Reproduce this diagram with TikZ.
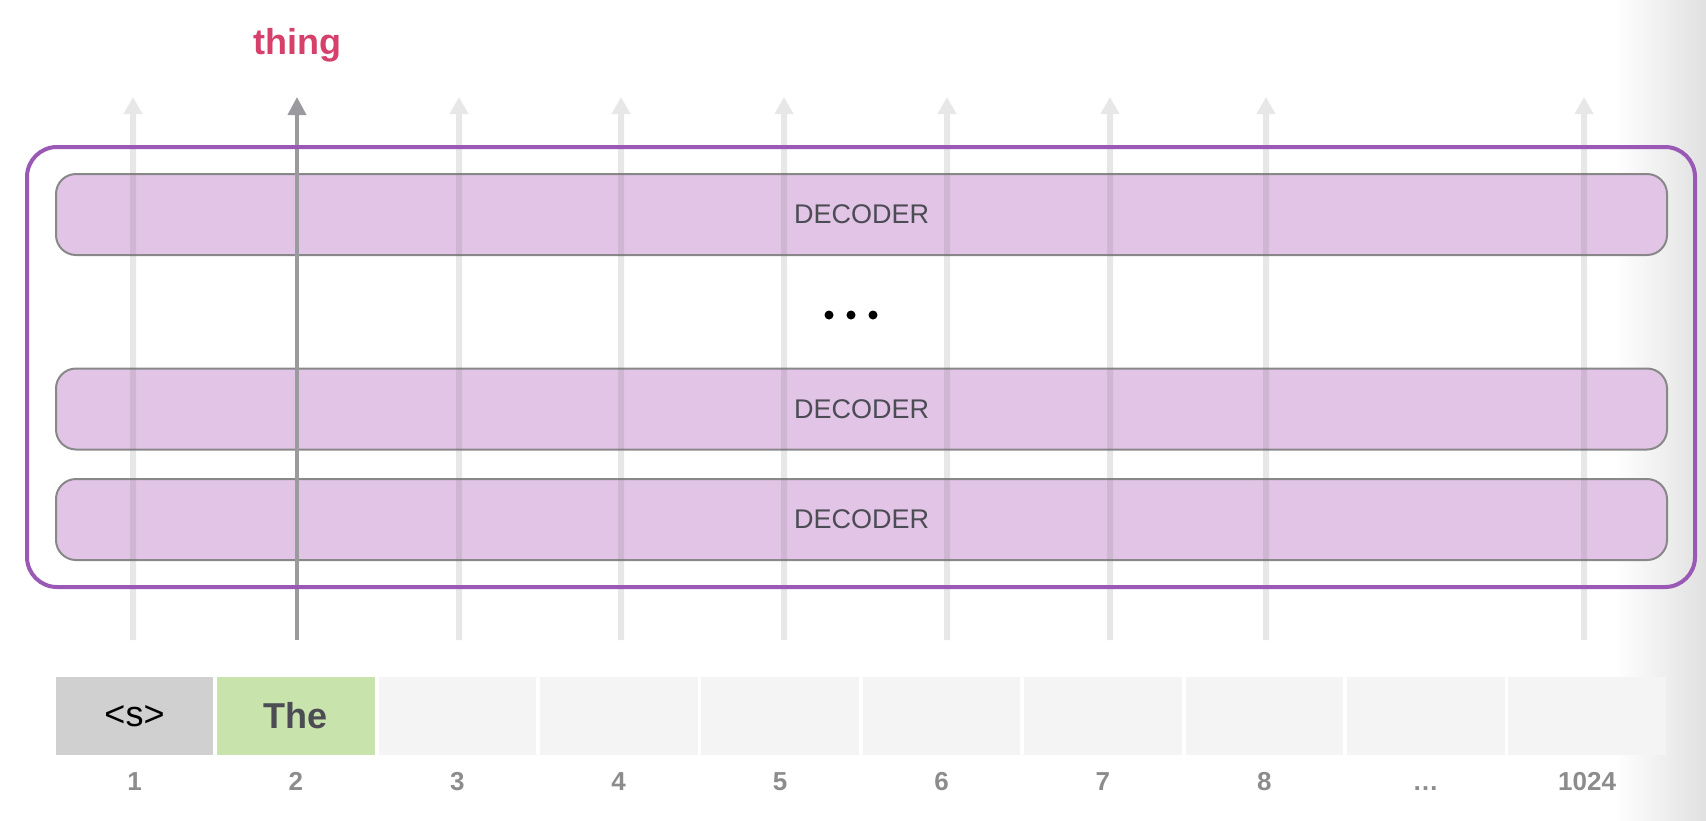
\documentclass[tikz,border=0pt]{standalone}
\usepackage{fontspec}
\setmainfont{Liberation Sans}
\usetikzlibrary{arrows.meta}
\tikzset{>=stealth}

\definecolor{stackline}{HTML}{9B59B6}
\definecolor{decfill}{HTML}{E2C4E7}
\definecolor{decline}{HTML}{888888}
\definecolor{dectext}{HTML}{4C4C54}
\definecolor{thingred}{HTML}{D6416B}
\definecolor{tokstart}{HTML}{D0D0D0}
\definecolor{tokword}{HTML}{C9E3AD}
\definecolor{tokempty}{HTML}{F4F4F4}
\definecolor{posgray}{HTML}{8C8C8C}
\definecolor{arrowdark}{HTML}{9A9A9F}

\begin{document}
\begin{tikzpicture}[x=0.5pt, y=-0.5pt,
    decoder/.style={draw=decline, line width=1pt, fill=decfill, rounded corners=10pt,
        minimum width=805.5pt, minimum height=40.5pt, inner sep=0pt,
        font=\fontsize{13.5}{15}\selectfont, text=dectext},
    token/.style={minimum width=78.8pt, minimum height=39pt, inner sep=0pt,
        fill=tokempty, font=\fontsize{18}{20}\selectfont},
    posnum/.style={anchor=base, font=\bfseries\fontsize{13}{15}\selectfont, text=posgray},
    faint/.style={line width=3pt, draw=black!55, -{Triangle[width=9pt,length=8.5pt]}},
    strong/.style={line width=2pt, draw=arrowdark, -{Triangle[width=9pt,length=9pt]}}]
    \useasboundingbox (0,0) rectangle (1706,820);
    % screen edge
    \shade[left color=white, right color=black!12] (1615,0) rectangle (1706,820);
    % decoder stack
    \node[decoder] (D1) at (861.5,214.5) {DECODER};
    \node[decoder] (D2) at (861.5,409) {DECODER};
    \node[decoder] (D3) at (861.5,519.5) {DECODER};
    \fill (829,315) circle (4.5) (851,315) circle (4.5) (873,315) circle (4.5);
    % tokens and positions
    \foreach \i/\lab in {1/1,2/2,3/3,4/4,5/5,6/6,7/7,8/8,9/\ldots,10/1024}{
        \node[token] (T\i) at ({134.5+161.4*(\i-1)},716) {};
        \node[posnum] (N\i) at ({134.5+161.4*(\i-1)},790) {\lab};
    }
    \node[token, fill=tokstart] at (T1) {<s>};
    \node[token, fill=tokword, text=dectext, font=\bfseries\fontsize{18}{20}\selectfont] at (T2) {The};
    % flow arrows
    \begin{scope}[transparency group, opacity=0.17]
    \foreach \i/\x in {1/133,3/459,4/621,5/784,6/947,7/1110,8/1266,10/1584}{
        \coordinate (P\i) at (\x,640);
        \coordinate (Q\i) at (\x,97);
        \draw[faint] (P\i) -- (Q\i);
    }
    \end{scope}
    \coordinate (P2) at (297,640);
    \coordinate (Q2) at (297,97);
    \draw[strong] (P2) -- (Q2);
    \node[anchor=base, text=thingred, font=\bfseries\fontsize{18}{20}\selectfont] (out) at (297,54) {thing};
    % outer frame
    \draw[stackline, line width=2pt, rounded corners=15pt] (27,147) rectangle (1695,587);
\end{tikzpicture}
\end{document}
